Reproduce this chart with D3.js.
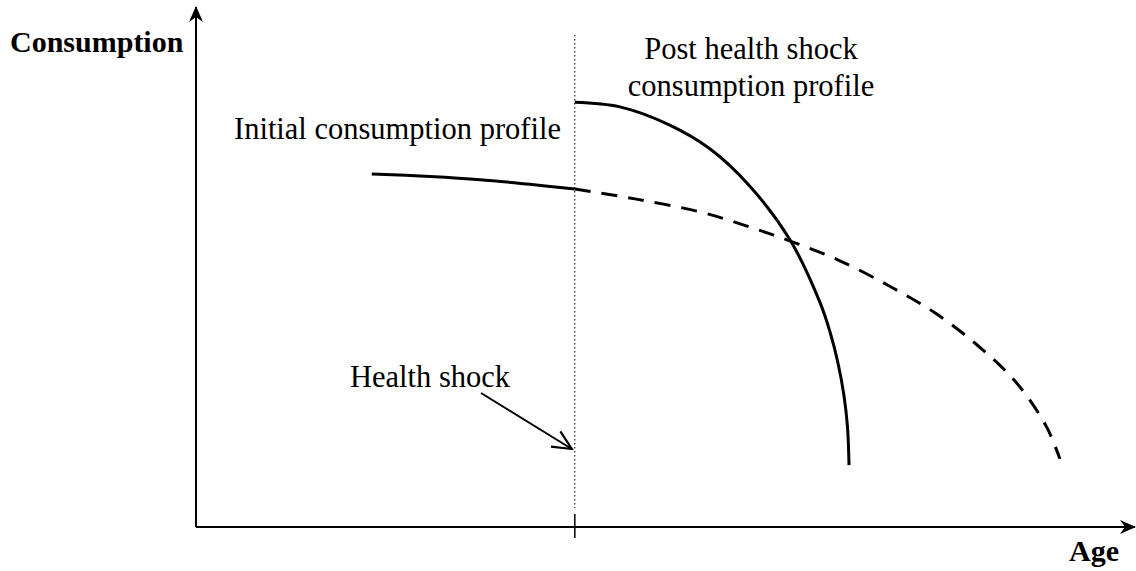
<!DOCTYPE html>
<html>
<head>
<meta charset="utf-8">
<script src="https://cdn.jsdelivr.net/npm/d3@7"></script>
<style>
  body { margin: 0; background: #fff; }
  text { font-family: "Liberation Serif", "Times New Roman", serif; fill: #000; }
</style>
</head>
<body>
<svg id="chart" width="1136" height="571"></svg>
<script>
// values (age, consumption), arbitrary 0-100 units
const initialSolid = [[18.7, 67.9], [24.9, 67.4], [30.2, 66.8], [35.5, 65.9], [40.3, 65.0]];
const initialDashed = [[40.3, 65.0], [46.7, 63.1], [53.6, 60.6], [58.9, 57.7], [63.5, 54.8],
  [68.5, 51.2], [73.8, 46.3], [78.6, 41.2], [83.1, 35.0], [87.3, 27.7], [90.5, 19.2], [91.9, 13.1]];
const postShock = [[40.3, 81.7], [45.1, 80.8], [50.4, 77.3], [54.7, 72.7], [58.9, 65.6],
  [63.2, 55.2], [66.4, 43.1], [67.45, 37.5], [68.3, 31.5], [68.94, 25.2], [69.31, 19.2], [69.47, 11.9]];
const shockAge = 40.3;

const svg = d3.select("#chart"),
      width = +svg.attr("width"),
      height = +svg.attr("height");

const x = d3.scaleLinear().domain([0, 100]).range([196, 1136]);
const y = d3.scaleLinear().domain([0, 100]).range([527, 7]);

const line = d3.line()
    .x(d => x(d[0]))
    .y(d => y(d[1]))
    .curve(d3.curveCatmullRom.alpha(0.5));

const defs = svg.append("defs");
defs.append("marker")
    .attr("id", "axisHead")
    .attr("viewBox", "0 0 16 16")
    .attr("refX", 15).attr("refY", 8)
    .attr("markerWidth", 16).attr("markerHeight", 16)
    .attr("markerUnits", "userSpaceOnUse")
    .attr("orient", "auto")
    .append("path")
    .attr("d", "M0,1 L16,8 L0,15 L5,8 Z")
    .attr("fill", "#000");

defs.append("marker")
    .attr("id", "openHead")
    .attr("viewBox", "0 0 24 24")
    .attr("refX", 22).attr("refY", 12)
    .attr("markerWidth", 24).attr("markerHeight", 24)
    .attr("markerUnits", "userSpaceOnUse")
    .attr("orient", "auto")
    .append("path")
    .attr("d", "M3,3 L22,12 L3,21")
    .attr("fill", "none")
    .attr("stroke", "#000")
    .attr("stroke-width", 2.2);

// axes
svg.append("line")
    .attr("x1", x(0)).attr("y1", y(0))
    .attr("x2", x(0)).attr("y2", y(100))
    .attr("stroke", "#000").attr("stroke-width", 2)
    .attr("marker-end", "url(#axisHead)");

svg.append("line")
    .attr("x1", x(0)).attr("y1", y(0))
    .attr("x2", x(100) - 1).attr("y2", y(0))
    .attr("stroke", "#000").attr("stroke-width", 2)
    .attr("marker-end", "url(#axisHead)");

// tick at the shock age
svg.append("line")
    .attr("x1", x(shockAge)).attr("x2", x(shockAge))
    .attr("y1", y(0) - 13).attr("y2", y(0) + 11)
    .attr("stroke", "#000").attr("stroke-width", 1.5);

// dotted vertical line
svg.append("line")
    .attr("x1", x(shockAge)).attr("x2", x(shockAge))
    .attr("y1", 35).attr("y2", 508)
    .attr("stroke", "#000").attr("stroke-width", 1)
    .attr("stroke-dasharray", "1.5,2.5");

// curves
svg.append("path").attr("d", line(initialSolid))
    .attr("fill", "none").attr("stroke", "#000").attr("stroke-width", 3);

svg.append("path").attr("d", line(initialDashed))
    .attr("fill", "none").attr("stroke", "#000").attr("stroke-width", 3)
    .attr("stroke-dasharray", "16,11");

svg.append("path").attr("d", line(postShock))
    .attr("fill", "none").attr("stroke", "#000").attr("stroke-width", 3);

// health shock arrow
svg.append("line")
    .attr("x1", 481).attr("y1", 393)
    .attr("x2", x(shockAge) - 3).attr("y2", 449)
    .attr("stroke", "#000").attr("stroke-width", 2)
    .attr("marker-end", "url(#openHead)");

// labels
svg.append("text").attr("x", 10).attr("y", 52)
    .style("font-size", "30px").style("font-weight", "bold")
    .text("Consumption");

svg.append("text").attr("x", 1119).attr("y", 561)
    .attr("text-anchor", "end")
    .style("font-size", "30px").style("font-weight", "bold")
    .text("Age");

svg.append("text").attr("x", 234).attr("y", 139)
    .style("font-size", "30.5px")
    .text("Initial consumption profile");

svg.append("text").attr("x", 751).attr("y", 59)
    .attr("text-anchor", "middle")
    .style("font-size", "30.5px")
    .text("Post health shock");

svg.append("text").attr("x", 751).attr("y", 96)
    .attr("text-anchor", "middle")
    .style("font-size", "30.5px")
    .text("consumption profile");

svg.append("text").attr("x", 350).attr("y", 387)
    .style("font-size", "30.5px")
    .text("Health shock");
</script>
</body>
</html>
